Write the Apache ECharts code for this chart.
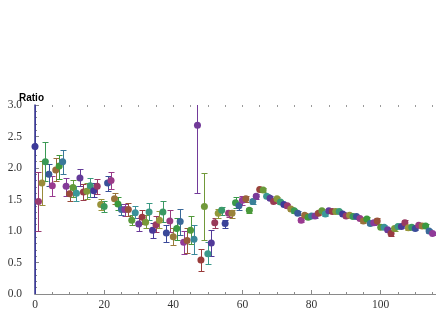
<!DOCTYPE html>
<html>
<head>
<meta charset="utf-8">
<script src="https://cdn.jsdelivr.net/npm/echarts@6/dist/echarts.min.js"></script>
<style>
	html, body { margin: 0; padding: 0; background: #fff; }
	#chart { width: 436px; height: 327px; }
</style>
</head>
<body>
<div id="chart"></div>
<script>
// ratio per bin (x = index 0..115)
var ratio = [
	2.34, 1.47, 1.76, 2.10, 1.90, 1.72, 1.97, 2.03, 2.10, 1.71,
	1.59, 1.69, 1.60, 1.84, 1.62, 1.63, 1.72, 1.64, 1.71, 1.42,
	1.39, 1.76, 1.80, 1.51, 1.43, 1.34, 1.34, 1.34, 1.17, 1.29,
	1.11, 1.22, 1.14, 1.30, 1.01, 1.10, 1.17, 1.30, 0.97, 1.16,
	0.91, 1.04, 1.15, 0.82, 0.85, 1.01, 0.87, 2.68, 0.54, 1.39,
	0.64, 0.81, 1.13, 1.28, 1.33, 1.12, 1.28, 1.28, 1.45, 1.40,
	1.49, 1.51, 1.33, 1.47, 1.55, 1.66, 1.65, 1.55, 1.52, 1.47,
	1.51, 1.46, 1.42, 1.40, 1.35, 1.32, 1.28, 1.17, 1.25, 1.22,
	1.24, 1.24, 1.28, 1.32, 1.27, 1.32, 1.31, 1.31, 1.31, 1.27,
	1.24, 1.25, 1.23, 1.23, 1.20, 1.16, 1.19, 1.12, 1.13, 1.16,
	1.06, 1.06, 1.02, 0.96, 1.04, 1.07, 1.07, 1.13, 1.05, 1.06,
	1.04, 1.09, 1.08, 1.08, 1.00, 0.96
];
// lower end of error bar
var errLow = [
	-0.50, 1.00, 1.41, 1.79, 1.71, 1.56, 1.80, 1.83, 1.91, 1.56,
	1.47, 1.54, 1.47, 1.71, 1.50, 1.51, 1.54, 1.54, 1.59, 1.33,
	1.30, 1.63, 1.67, 1.43, 1.34, 1.25, 1.24, 1.24, 1.09, 1.20,
	1.00, 1.11, 1.05, 1.18, 0.89, 0.98, 1.05, 1.14, 0.83, 0.98,
	0.77, 0.85, 0.93, 0.63, 0.65, 0.80, 0.64, 1.61, 0.36, 0.86,
	0.47, 0.60, 1.05, 1.21, 1.25, 1.05, 1.22, 1.21, 1.37, 1.33,
	1.42, 1.46, 1.29, 1.43, 1.51, 1.63, 1.62, 1.52, 1.49, 1.44,
	1.48, 1.43, 1.39, 1.37, 1.32, 1.29, 1.25, 1.14, 1.22, 1.19,
	1.21, 1.21, 1.25, 1.29, 1.24, 1.29, 1.28, 1.28, 1.28, 1.24,
	1.21, 1.22, 1.20, 1.20, 1.17, 1.12, 1.16, 1.09, 1.10, 1.11,
	1.03, 1.03, 0.99, 0.92, 1.00, 1.04, 1.04, 1.09, 1.02, 1.03,
	1.01, 1.06, 1.05, 1.05, 0.97, 0.93
];
// upper end of error bar
var errHigh = [
	3.50, 1.93, 2.11, 2.41, 2.07, 1.88, 2.16, 2.21, 2.29, 1.84,
	1.71, 1.81, 1.72, 1.99, 1.74, 1.76, 1.84, 1.76, 1.82, 1.51,
	1.47, 1.87, 1.93, 1.60, 1.54, 1.43, 1.43, 1.44, 1.25, 1.40,
	1.20, 1.34, 1.25, 1.44, 1.12, 1.24, 1.32, 1.48, 1.09, 1.34,
	1.04, 1.21, 1.35, 1.00, 1.05, 1.24, 1.10, 3.30, 0.72, 1.92,
	0.83, 1.02, 1.21, 1.35, 1.38, 1.17, 1.33, 1.33, 1.54, 1.46,
	1.56, 1.56, 1.37, 1.51, 1.59, 1.69, 1.68, 1.58, 1.55, 1.50,
	1.54, 1.49, 1.45, 1.43, 1.38, 1.35, 1.31, 1.20, 1.28, 1.25,
	1.27, 1.27, 1.31, 1.35, 1.30, 1.35, 1.34, 1.34, 1.34, 1.30,
	1.27, 1.28, 1.26, 1.26, 1.23, 1.20, 1.22, 1.15, 1.16, 1.20,
	1.09, 1.09, 1.05, 1.01, 1.08, 1.10, 1.10, 1.17, 1.08, 1.09,
	1.07, 1.12, 1.11, 1.11, 1.03, 0.99
];
var xTicks = [0, 20, 40, 60, 80, 100];
var yTicks = [0.0, 0.5, 1.0, 1.5, 2.0, 2.5, 3.0];

// 每个点一种颜色 (hue 递进, 类似 Mathematica 旧配色)
function pointColor(i) {
	var h = (0.67 + 0.2360679 * i) % 1;
	var s = 0.62, v = 0.6;
	var k = Math.floor(h * 6), f = h * 6 - k;
	var p = v * (1 - s), q = v * (1 - f * s), t = v * (1 - (1 - f) * s);
	var rgb = [[v, t, p], [q, v, p], [p, v, t], [p, q, v], [t, p, v], [v, p, q]][k % 6];
	return 'rgb(' + rgb.map(function (c) { return Math.round(c * 255); }).join(',') + ')';
}

var pts = [], bars = [];
for (var i = 0; i < ratio.length; i++) {
	pts.push([i, ratio[i]]);
	bars.push([i, errLow[i], errHigh[i]]);
}

var chart = echarts.init(document.getElementById('chart'));
var serif = '"Liberation Serif", "DejaVu Serif", serif';

chart.setOption({
	animation: false,
	title: {
		text: 'Ratio',
		left: 14,
		top: 88,
		textStyle: { fontFamily: '"Liberation Sans", Arial, sans-serif', fontSize: 10, fontWeight: 'bold', color: '#000' }
	},
	grid: { left: 35, right: 0, top: 105, bottom: 33 },
	xAxis: [{
		type: 'value',
		min: 0,
		max: 116,
		interval: 20,
		axisLine: { lineStyle: { color: '#8a8a8a', width: 1 } },
		axisTick: { inside: true, length: 4, lineStyle: { color: '#8a8a8a' } },
		minorTick: { show: true, splitNumber: 4, length: 2, lineStyle: { color: '#8a8a8a' } },
		axisLabel: {
			margin: 5, fontFamily: serif, fontSize: 11.5, color: '#333', showMaxLabel: false,
			formatter: function (v) { return xTicks.indexOf(v) >= 0 ? String(v) : ''; }
		},
		splitLine: { show: false }
	}, {
		type: 'value',
		position: 'top',
		min: 0,
		max: 116,
		interval: 5,
		axisLine: { show: false },
		axisTick: { inside: true, length: 2, lineStyle: { color: '#9a9a9a' } },
		axisLabel: { show: false },
		splitLine: { show: false }
	}],
	yAxis: {
		type: 'value',
		min: 0,
		max: 3,
		interval: 0.5,
		axisLine: { show: true, lineStyle: { color: '#3a3a8e', width: 1.5 } },
		axisTick: { show: true, inside: true, length: 4, lineStyle: { color: '#8a8a8a' } },
		minorTick: { show: true, splitNumber: 5, length: 2, lineStyle: { color: '#8a8a8a' } },
		axisLabel: {
			margin: 13, fontFamily: serif, fontSize: 11.5, color: '#333',
			formatter: function (v) { return yTicks.indexOf(v) >= 0 ? v.toFixed(1) : ''; }
		},
		splitLine: { show: false }
	},
	series: [{
		type: 'custom',
		clip: true,
		data: bars,
		renderItem: function (params, api) {
			var x = api.value(0);
			var lo = api.coord([x, api.value(1)]);
			var hi = api.coord([x, api.value(2)]);
			var c = pointColor(params.dataIndex);
			var px = Math.round(lo[0]) + 0.5;
			var y1 = Math.round(lo[1]) + 0.5, y2 = Math.round(hi[1]) + 0.5;
			var w = 3;
			var st = { stroke: c, lineWidth: 1, fill: null };
			return {
				type: 'group',
				children: [
					{ type: 'line', shape: { x1: px, y1: y1, x2: px, y2: y2 }, style: st },
					{ type: 'line', shape: { x1: px - w, y1: y1, x2: px + w, y2: y1 }, style: st },
					{ type: 'line', shape: { x1: px - w, y1: y2, x2: px + w, y2: y2 }, style: st }
				]
			};
		},
		z: 2
	}, {
		type: 'scatter',
		data: pts,
		symbol: 'circle',
		symbolSize: 7,
		itemStyle: {
			color: function (p) { return pointColor(p.dataIndex); },
			opacity: 1
		},
		z: 3
	}]
});
</script>
</body>
</html>
